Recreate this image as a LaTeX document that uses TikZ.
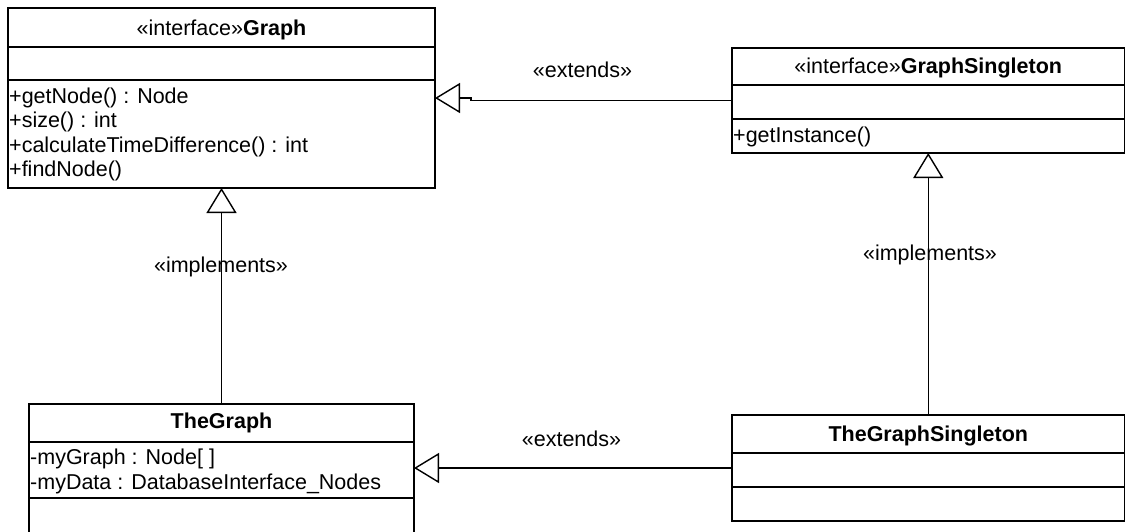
\documentclass[tikz,border=0pt]{standalone}
\usepackage{fontspec}
\setmainfont{Liberation Sans}
\usetikzlibrary{arrows.meta,calc}
\newcommand\umlfont{\fontsize{21.5}{24}\selectfont}
\tikzset{
  umlbox/.style={draw, line width=1.6pt, rectangle, inner sep=0pt, outer sep=0pt, anchor=north west},
  divider/.style={line width=1.6pt},
  member/.style={anchor=base west, inner sep=0pt, font=\umlfont},
  classname/.style={anchor=base, inner sep=0pt, font=\umlfont},
  stereo/.style={anchor=base, inner sep=0pt, font=\umlfont},
  generalize/.style={line width=1.1pt, -{Triangle[open, length=25pt, width=30pt, line width=1.4pt]}},
}
\begin{document}
\begin{tikzpicture}[x=1pt, y=-1pt]
  \useasboundingbox (0,0) rectangle (1126,531);
  \clip (0,0) rectangle (1126,531);

  % interface Graph
  \node[umlbox, minimum width=427pt, minimum height=180pt] (graph) at (8,8) {};
  \draw[divider] ($(graph.north west)+(0,39)$) -- ($(graph.north east)+(0,39)$);
  \draw[divider] ($(graph.north west)+(0,72)$) -- ($(graph.north east)+(0,72)$);
  \node[classname] (graphT) at ($(graph.north)+(0,27)$) {«interface»\textbf{Graph}};
  \node[member] (gm1) at ($(graph.north west)+(1,95)$) {+getNode() : Node};
  \node[member] (gm2) at ($(graph.north west)+(1,119.5)$) {+size() : int};
  \node[member] (gm3) at ($(graph.north west)+(1,144)$) {+calculateTimeDifference() : int};
  \node[member] (gm4) at ($(graph.north west)+(1,168.5)$) {+findNode()};

  % interface GraphSingleton
  \node[umlbox, minimum width=392.5pt, minimum height=105pt] (gs) at (732,48) {};
  \draw[divider] ($(gs.north west)+(0,37)$) -- ($(gs.north east)+(0,37)$);
  \draw[divider] ($(gs.north west)+(0,71)$) -- ($(gs.north east)+(0,71)$);
  \node[classname] (gsT) at ($(gs.north)+(0,25)$) {«interface»\textbf{GraphSingleton}};
  \node[member] (gsm1) at ($(gs.north west)+(1,94)$) {+getInstance()};

  % class TheGraph
  \node[umlbox, minimum width=385pt, minimum height=131pt] (tg) at (29,404) {};
  \draw[divider] ($(tg.north west)+(0,38)$) -- ($(tg.north east)+(0,38)$);
  \draw[divider] ($(tg.north west)+(0,94)$) -- ($(tg.north east)+(0,94)$);
  \node[classname] (tgT) at ($(tg.north)+(0,24)$) {\textbf{TheGraph}};
  \node[member] (tga1) at ($(tg.north west)+(1,60)$) {-myGraph : Node[ ]};
  \node[member] (tga2) at ($(tg.north west)+(1,85)$) {-myData : DatabaseInterface\_Nodes};

  % class TheGraphSingleton
  \node[umlbox, minimum width=392.5pt, minimum height=106pt] (tgs) at (732,415) {};
  \draw[divider] ($(tgs.north west)+(0,38)$) -- ($(tgs.north east)+(0,38)$);
  \draw[divider] ($(tgs.north west)+(0,72)$) -- ($(tgs.north east)+(0,72)$);
  \node[classname] (tgsT) at ($(tgs.north)+(0,26)$) {\textbf{TheGraphSingleton}};

  % generalization / realization connectors
  \draw[generalize] (gs.west) -| ($(graph.east)+(36,0)$) -- (graph.east);
  \draw[generalize] (tgs.west) -- (tgs.west -| tg.east);
  \draw[generalize] (tg.north) -- (graph.south);
  \draw[generalize] (tgs.north) -- (gs.south);

  % stereotype labels
  \node[stereo] (ext1) at (582.5,77) {«extends»};
  \node[stereo] (ext2) at (571.5,446) {«extends»};
  \node[stereo] (imp1) at (221,272) {«implements»};
  \node[stereo] (imp2) at (930,260) {«implements»};
\end{tikzpicture}
\end{document}
